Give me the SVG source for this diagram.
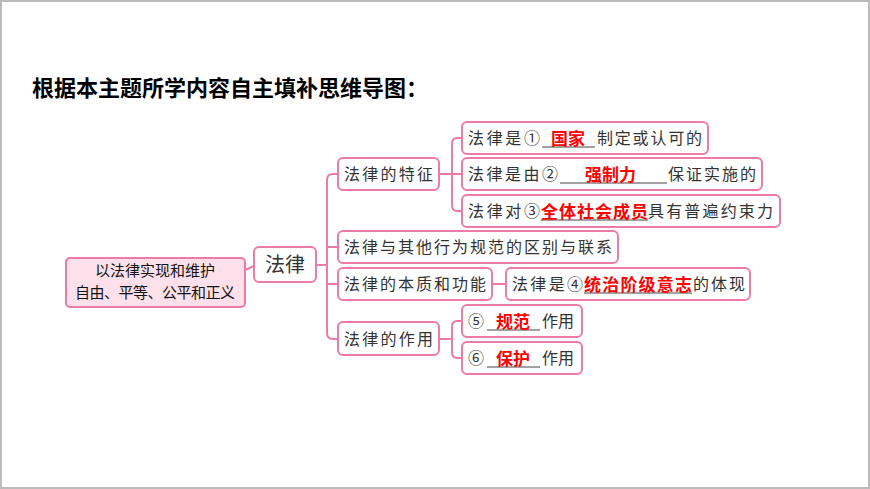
<svg xmlns="http://www.w3.org/2000/svg" width="870" height="489" viewBox="0 0 870 489">
<style>
.b{fill:#fff;stroke:#ee7aa8;stroke-width:2}
.t{font-family:"Noto Sans CJK SC",sans-serif;font-size:16px;fill:#333}
.r{font-family:"Noto Sans CJK SC",sans-serif;font-size:17px;font-weight:bold;fill:#f00}
.u{stroke:#444;stroke-width:1}
.c{fill:none;stroke:#ee7aa8;stroke-width:2}
</style>
<rect x="0" y="0" width="870" height="489" fill="#fff"/>
<rect x="1" y="1" width="868" height="487" fill="none" stroke="#bbb" stroke-width="2"/>
<text x="32" y="96" font-family="Noto Sans CJK SC,sans-serif" font-size="22" font-weight="bold" fill="#000">根据本主题所学内容自主填补思维导图：</text>
<g id="connectors">
<path class="c" d="M245 270 L254 266"/>
<path class="c" d="M316 265 H327"/>
<path class="c" d="M338 174 H333 Q327 174 327 180 V333 Q327 339 333 339 H338"/>
<path class="c" d="M327 247 H338 M327 284 H338"/>
<path class="c" d="M439 174 H452 M462 138 H457 Q452 138 452 144 V205 Q452 211 457 211 H462 M452 174 H462"/>
<path class="c" d="M492 284 H506"/>
<path class="c" d="M439 339 H452 M462 321 H457 Q452 321 452 327 V352 Q452 358 457 358 H462"/>
</g>
<g id="root"><rect x="66" y="258" width="179" height="49" rx="4" fill="#fde0ea" stroke="#ee7aa8" stroke-width="2"/>
<text x="155" y="276" text-anchor="middle" font-family="Noto Sans CJK SC,sans-serif" font-size="15" fill="#111">以法律实现和维护</text>
<text x="155" y="298" text-anchor="middle" font-family="Noto Sans CJK SC,sans-serif" font-size="15" fill="#111" textLength="160">自由、平等、公平和正义</text></g>
<g id="law"><rect class="b" x="254" y="247" width="62" height="35" rx="5" fill="#fff5f8"/><text x="285" y="272" text-anchor="middle" class="t" style="font-size:20px">法律</text></g>
<g id="n1"><rect class="b" x="338" y="158" width="101" height="32" rx="5"/><text x="344" y="180" class="t" textLength="89">法律的特征</text></g>
<g id="n2"><rect class="b" x="338" y="231" width="280" height="32" rx="5"/><text x="344" y="253" class="t" textLength="268">法律与其他行为规范的区别与联系</text></g>
<g id="n3"><rect class="b" x="338" y="268" width="154" height="32" rx="5"/><text x="344" y="290" class="t" textLength="142">法律的本质和功能</text></g>
<g id="n4"><rect class="b" x="338" y="322" width="101" height="33" rx="5"/><text x="344" y="345" class="t" textLength="89">法律的作用</text></g>
<g id="f1"><rect class="b" x="462" y="122" width="246" height="32" rx="5"/><text x="468" y="144" class="t" textLength="72">法律是①</text><line class="u" x1="542" y1="147" x2="595" y2="147"/><text x="551" y="145" class="r">国家</text><text x="597" y="144" class="t" textLength="105">制定或认可的</text></g>
<g id="f2"><rect class="b" x="462" y="158" width="300" height="32" rx="5"/><text x="468" y="180" class="t" textLength="90">法律是由②</text><line class="u" x1="560" y1="183" x2="667" y2="183"/><text x="585" y="181" class="r">强制力</text><text x="668" y="180" class="t" textLength="88">保证实施的</text></g>
<g id="f3"><rect class="b" x="462" y="195" width="318" height="32" rx="5"/><text x="468" y="217" class="t" textLength="72">法律对③</text><line class="u" x1="541" y1="220" x2="648" y2="220"/><text x="541" y="218" class="r" textLength="107">全体社会成员</text><text x="648" y="217" class="t" textLength="125">具有普遍约束力</text></g>
<g id="e1"><rect class="b" x="506" y="268" width="244" height="32" rx="5"/><text x="512" y="290" class="t" textLength="71">法律是④</text><line class="u" x1="584" y1="293" x2="692" y2="293"/><text x="584" y="291" class="r" textLength="108">统治阶级意志</text><text x="693" y="290" class="t" textLength="52">的体现</text></g>
<g id="a1"><rect class="b" x="462" y="305" width="120" height="32" rx="5"/><text x="468" y="327" class="t" textLength="18">⑤</text><line class="u" x1="487" y1="330" x2="540" y2="330"/><text x="496" y="328" class="r">规范</text><text x="542" y="327" class="t">作用</text></g>
<g id="a2"><rect class="b" x="462" y="342" width="120" height="32" rx="5"/><text x="468" y="364" class="t" textLength="18">⑥</text><line class="u" x1="487" y1="367" x2="540" y2="367"/><text x="496" y="365" class="r">保护</text><text x="542" y="364" class="t">作用</text></g>
</svg>
